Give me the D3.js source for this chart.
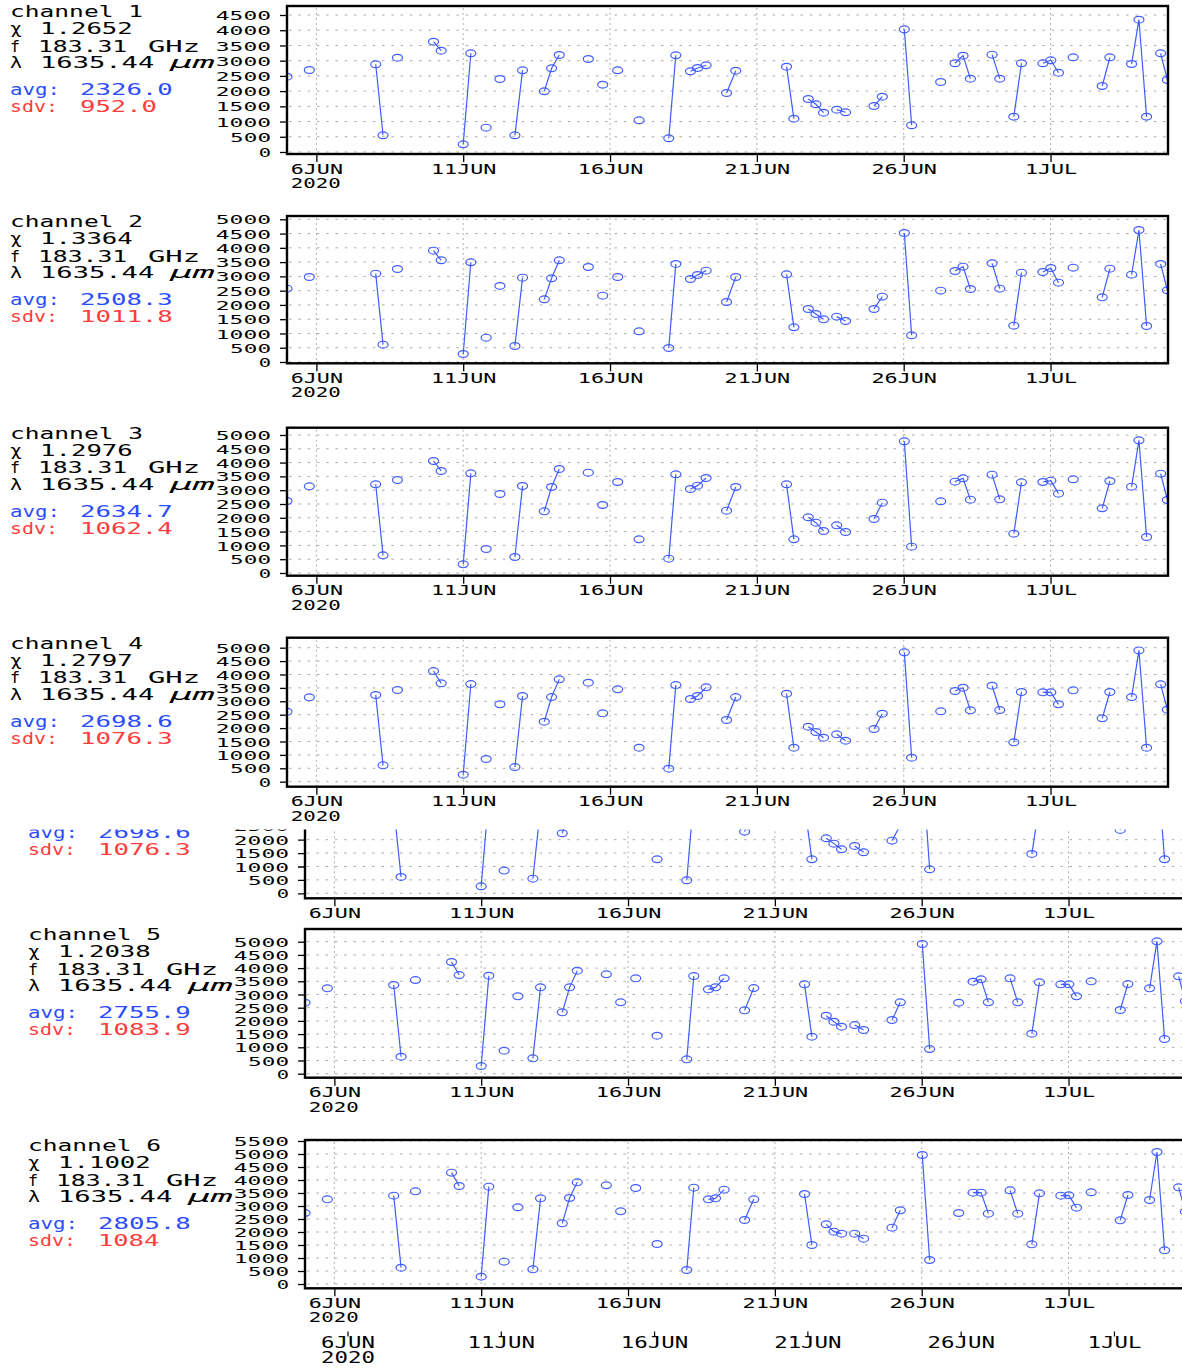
<!DOCTYPE html>
<html><head><meta charset="utf-8">
<script src="https://cdn.jsdelivr.net/npm/d3@7"></script>
<style>body{margin:0;background:#fff}svg{display:block}</style>
</head><body><svg id="c" width="1182" height="1368"></svg>
<script>
// ---------------- DATA ----------------
const times = ["2020-06-05T00:00","2020-06-05T18:15","2020-06-08T00:30","2020-06-08T06:30","2020-06-08T18:15",
"2020-06-09T23:45","2020-06-10T06:00","2020-06-11T00:00","2020-06-11T06:15","2020-06-11T18:45",
"2020-06-12T06:00","2020-06-12T18:15","2020-06-13T00:30","2020-06-13T18:15","2020-06-14T00:15",
"2020-06-14T06:30","2020-06-15T06:15","2020-06-15T18:00","2020-06-16T06:15","2020-06-16T23:45",
"2020-06-18T00:00","2020-06-18T05:45","2020-06-18T17:45","2020-06-18T23:30","2020-06-19T06:30",
"2020-06-19T23:15","2020-06-20T06:45","2020-06-22T00:15","2020-06-22T06:15","2020-06-22T18:00",
"2020-06-23T00:15","2020-06-23T06:30","2020-06-23T17:15","2020-06-24T00:30","2020-06-24T23:45",
"2020-06-25T06:30","2020-06-26T00:30","2020-06-26T06:30","2020-06-27T06:15","2020-06-27T18:00",
"2020-06-28T00:30","2020-06-28T06:30","2020-06-29T00:15","2020-06-29T06:30","2020-06-29T18:00",
"2020-06-30T00:15","2020-06-30T17:45","2020-07-01T00:15","2020-07-01T06:30","2020-07-01T18:30",
"2020-07-02T18:15","2020-07-03T00:30","2020-07-03T18:15","2020-07-04T00:15","2020-07-04T06:30",
"2020-07-04T18:00","2020-07-04T23:30"];

const ch1 = [2474,2694,2881,548,3098,3624,3328,253,3242,799,2398,548,2684,1994,2750,3187,3055,2211,2684,1041,450,3176,2651,2760,2848,1938,2671,2802,1094,1741,1567,1291,1390,1304,1511,1817,4031,877,2300,2914,3164,2408,3197,2408,1160,2914,2914,3012,2605,3111,2168,3111,2891,4346,1160,3242,2365];
const ch2 = [2570,2979,3096,607,3259,3902,3563,280,3493,853,2664,561,2956,2196,2932,3563,3329,2325,2979,1075,491,3435,2909,3049,3201,2103,2979,3072,1215,1857,1682,1495,1589,1437,1857,2290,4521,935,2500,3189,3341,2558,3458,2570,1273,3131,3154,3294,2780,3306,2266,3271,3061,4626,1262,3435,2512];
const ch3 = [2609,3140,3213,640,3370,4058,3696,314,3611,870,2862,580,3152,2234,3116,3768,3635,2464,3297,1220,519,3575,3043,3164,3442,2258,3116,3213,1220,2017,1824,1522,1727,1486,1957,2548,4771,954,2597,3309,3430,2657,3563,2669,1425,3285,3297,3345,2874,3394,2343,3333,3128,4807,1304,3599,2645];
const ch4 = [2612,3147,3234,609,3420,4129,3669,261,3644,846,2886,547,3197,2239,3159,3818,3694,2550,3445,1269,485,3607,3085,3197,3520,2301,3159,3284,1269,2052,1853,1642,1766,1530,1965,2537,4826,896,2624,3383,3507,2662,3582,2674,1468,3346,3333,3333,2886,3408,2363,3346,3159,4900,1269,3632,2687];
const ch5 = [2689,3232,3359,644,3548,4230,3737,290,3712,871,2929,581,3270,2323,3270,3902,3763,2702,3611,1439,543,3699,3194,3270,3611,2399,3245,3384,1402,2197,1970,1780,1843,1654,2033,2702,4912,934,2689,3485,3573,2702,3611,2702,1515,3460,3384,3384,2929,3497,2412,3396,3232,5013,1313,3687,2752];
const ch6 = [2731,3256,3397,628,3564,4282,3769,282,3744,859,2949,564,3295,2333,3308,3910,3795,2795,3692,1538,538,3705,3256,3295,3628,2462,3256,3462,1500,2295,2013,1936,1936,1744,2167,2833,4962,923,2731,3513,3513,2705,3603,2705,1526,3487,3397,3410,2936,3526,2449,3423,3231,5077,1295,3718,2782];

const channelNames = ["channel 1","channel 2","channel 3","channel 4","channel 5","channel 6"];
const chiValues = ["1.2652","1.3364","1.2976","1.2797","1.2038","1.1002"];
const freqLabel = "183.31";
const waveLabel = "1635.44";
const avgLabels = ["2326.0","2508.3","2634.7","2698.6","2755.9","2805.8"];
const sdvLabels = ["952.0","1011.8","1062.4","1076.3","1083.9","1084"];
const dateTicks = ["2020-06-06","2020-06-11","2020-06-16","2020-06-21","2020-06-26","2020-07-01"];
const yTicks45 = [0,500,1000,1500,2000,2500,3000,3500,4000,4500];
const yTicks50 = [0,500,1000,1500,2000,2500,3000,3500,4000,4500,5000];
const yTicks55 = [0,500,1000,1500,2000,2500,3000,3500,4000,4500,5000,5500];
const series = [ch1,ch2,ch3,ch4,ch5,ch6];

// ---------------- LAYOUT ----------------
const panels = [
  {ch:0, offX:0,  top:6,     h:148,   yDomain:[-66,4796],  ticks:yTicks45},
  {ch:1, offX:0,  top:216,   h:147.3, yDomain:[-46,5116],  ticks:yTicks50},
  {ch:2, offX:0,  top:427.7, h:148,   yDomain:[-98,5264],  ticks:yTicks50},
  {ch:3, offX:0,  top:637.7, h:149,   yDomain:[-187,5373], ticks:yTicks50},
  {ch:4, offX:18, top:929,   h:148.7, yDomain:[-152,5481], ticks:yTicks50},
  {ch:5, offX:18, top:1140,  h:148.3, yDomain:[-165,5538], ticks:yTicks55}
];
const FONT = "DejaVu Sans Mono";
const BLUE = "#3f5cff";
const parseT = d3.timeParse("%Y-%m-%dT%H:%M");
const parseD = d3.timeParse("%Y-%m-%d");
const T = times.map(parseT);
const tickDates = dateTicks.map(parseD);
const xDomain = [parseD("2020-06-05"), parseD("2020-07-05")];
const fmtDate = d => d3.timeFormat("%-d%b")(d).toUpperCase();
const svg = d3.select("#c");
const defs = svg.append("defs");
let clipN = 0;

function addText(g, str, x, y, size, len, fill, anchor) {
  const x0 = anchor === "middle" ? x - len/2 : anchor === "end" ? x - len : x;
  return g.append("text").attr("x", x0).attr("y", y).attr("text-anchor", "start")
    .attr("font-family", FONT).attr("font-size", size).attr("fill", fill || "#000")
    .attr("textLength", len).attr("lengthAdjust", "spacingAndGlyphs").text(str);
}
function styleText(sel, str, x, y, size, len) {
  sel.attr("x", x).attr("y", y).attr("dy", null).attr("text-anchor", "start")
    .attr("font-family", FONT).attr("font-size", size).attr("fill", "#000")
    .attr("textLength", len).attr("lengthAdjust", "spacingAndGlyphs").text(str);
}

function drawPanel(parent, p) {
  const vals = series[p.ch];
  const g = parent.append("g").attr("transform", `translate(${p.offX},${p.top})`);
  const x = d3.scaleTime().domain(xDomain).range([287, 1168]);
  const y = d3.scaleLinear().domain(p.yDomain).range([p.h, 0]);

  g.append("rect").attr("x", 287).attr("y", 0).attr("width", 881).attr("height", p.h).attr("fill", "#fff");
  // grids
  g.append("g").selectAll("line").data(p.ticks).join("line")
    .attr("x1", 289).attr("x2", 1166).attr("y1", d => y(d)).attr("y2", d => y(d))
    .attr("stroke", "#a9a9a9").attr("stroke-width", 1).attr("stroke-dasharray", "2.5,6.8");
  g.append("g").selectAll("line").data(tickDates).join("line")
    .attr("x1", d => x(d)).attr("x2", d => x(d)).attr("y1", 2).attr("y2", p.h - 1)
    .attr("stroke", "#b0b0b0").attr("stroke-width", 1).attr("stroke-dasharray", "2,3");

  // data
  const id = "clp" + (clipN++);
  defs.append("clipPath").attr("id", id).append("rect")
    .attr("x", 287).attr("y", 0).attr("width", 881).attr("height", p.h);
  const dg = g.append("g").attr("clip-path", `url(#${id})`);
  const pts = T.map((t, i) => ({t, v: vals[i]}));
  const segs = [];
  let cur = [pts[0]];
  for (let i = 1; i < pts.length; i++) {
    if (pts[i].t - pts[i-1].t <= 8 * 3600e3) cur.push(pts[i]);
    else { segs.push(cur); cur = [pts[i]]; }
  }
  segs.push(cur);
  const line = d3.line().x(d => x(d.t)).y(d => y(d.v));
  dg.selectAll("path.seg").data(segs.filter(s => s.length > 1)).join("path")
    .attr("class", "seg").attr("d", line).attr("fill", "none")
    .attr("stroke", BLUE).attr("stroke-width", 1.2);
  dg.selectAll("ellipse").data(pts).join("ellipse")
    .attr("cx", d => x(d.t)).attr("cy", d => y(d.v)).attr("rx", 5).attr("ry", 3.4)
    .attr("fill", "none").attr("stroke", BLUE).attr("stroke-width", 1.2);

  // frame
  g.append("rect").attr("x", 287).attr("y", 0).attr("width", 881).attr("height", p.h)
    .attr("fill", "none").attr("stroke", "#000").attr("stroke-width", 2.4);

  // y axis
  const ay = g.append("g").attr("transform", "translate(287,0)")
    .call(d3.axisLeft(y).tickValues(p.ticks).tickSize(7).tickFormat(d3.format("d")));
  ay.select(".domain").remove();
  ay.selectAll(".tick line").attr("stroke", "#000").attr("stroke-width", 1.3);
  ay.selectAll(".tick text").each(function(d) {
    const s = String(d), len = s.length * 14.3 - 2;
    styleText(d3.select(this), s, -16 - len, 4.6, 12.5, len);
  });

  // x axis
  const ax = g.append("g").attr("transform", `translate(0,${p.h})`)
    .call(d3.axisBottom(x).tickValues(tickDates).tickSize(8).tickFormat(fmtDate));
  ax.select(".domain").remove();
  ax.selectAll(".tick line").attr("stroke", "#000").attr("stroke-width", 1.3);
  ax.selectAll(".tick text").each(function(d) {
    const s = fmtDate(d), len = s.length * 13.3 - 1;
    styleText(d3.select(this), s, -len/2, 19.5, 13.5, len);
  });
  const first = ax.select(".tick");
  const l0 = fmtDate(tickDates[0]).length * 13.3 - 1;
  addText(first, "2020", -l0/2, 34, 13.5, 50);

  // side labels
  const c = p.ch, b = 11;
  addText(g, channelNames[c], 10, b, 15, 133);
  addText(g, "χ", 10, b + 17, 15, 12);
  addText(g, chiValues[c], 40, b + 17, 15, chiValues[c].length * 15.8 - 2);
  addText(g, "f", 10, b + 34.5, 15, 10);
  addText(g, freqLabel, 38, b + 34.5, 15, freqLabel.length * 15.2 - 2);
  addText(g, "GHz", 148, b + 34.5, 15, 52);
  addText(g, "λ", 10, b + 51, 15, 12);
  addText(g, waveLabel, 40, b + 51, 15, waveLabel.length * 16.6 - 2);
  addText(g, "μm", 170, b + 51, 15, 45, "#000").attr("font-style", "italic");
  addText(g, "avg:", 10, b + 78, 15, 50, "#2b4cff");
  addText(g, avgLabels[c], 80, b + 78, 15, avgLabels[c].length * 15.8 - 2, "#2b4cff");
  addText(g, "sdv:", 10, b + 95, 15, 48, "#ff3d3d");
  addText(g, sdvLabels[c], 80, b + 95, 15, sdvLabels[c].length * 15.8 - 2, "#ff3d3d");
}

// main panels 1-4
for (let i = 0; i < 4; i++) drawPanel(svg, panels[i]);

// repeated, shifted fragment of panel 4
defs.append("clipPath").attr("id", "fragClip").append("rect")
  .attr("x", 0).attr("y", 829.5).attr("width", 1182).attr("height", 92.5);
const frag = svg.append("g").attr("clip-path", "url(#fragClip)");
drawPanel(frag, Object.assign({}, panels[3], {offX: 18, top: 749.3}));

// panels 5-6
drawPanel(svg, panels[4]);
drawPanel(svg, panels[5]);

// extra bottom date axis
const xb = d3.scaleTime().domain(xDomain).range([316.84, 1236.6]);
const bx = svg.append("g").attr("transform", "translate(0,1331.5)")
  .call(d3.axisBottom(xb).tickValues(tickDates).tickSize(5).tickFormat(fmtDate));
bx.select(".domain").remove();
bx.selectAll(".tick line").attr("stroke", "#000").attr("stroke-width", 1.2);
bx.selectAll(".tick text").each(function(d) {
  const s = fmtDate(d), len = s.length * 13.7 - 1;
  styleText(d3.select(this), s, -len/2, 16.8, 16, len);
});
const bl0 = fmtDate(tickDates[0]).length * 13.7 - 1;
addText(bx.select(".tick"), "2020", -bl0/2, 31.8, 16, 54);
</script></body></html>
